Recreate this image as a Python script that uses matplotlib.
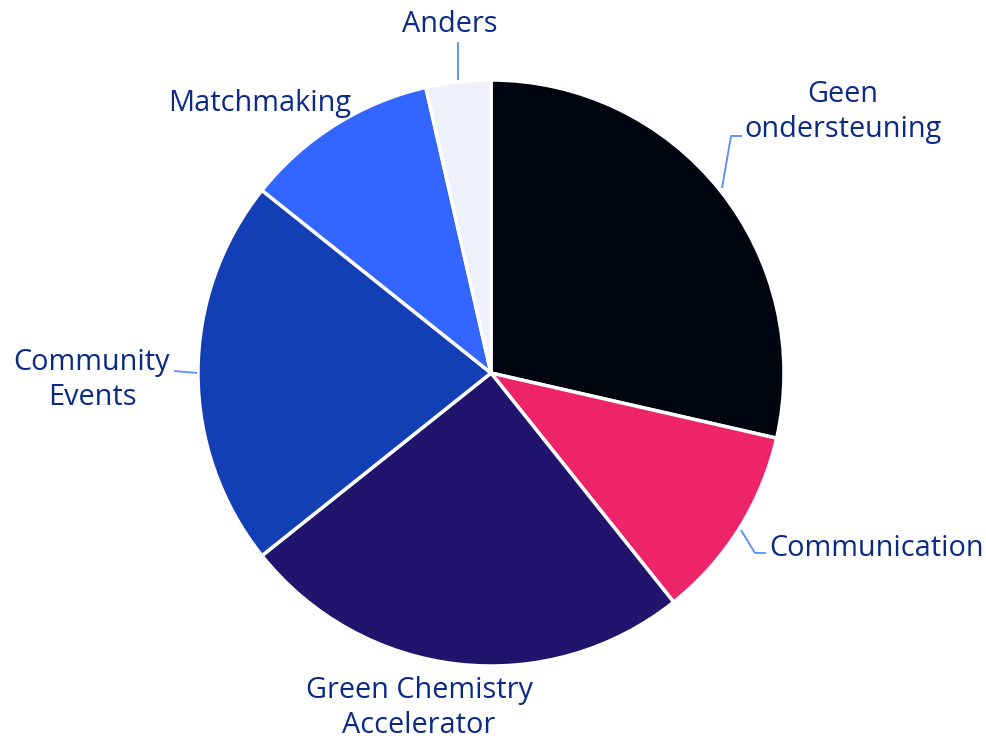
import matplotlib
matplotlib.use("Agg")
import matplotlib.pyplot as plt

categories = ["Geen\nondersteuning", "Communication", "Green Chemistry\nAccelerator",
              "Community\nEvents", "Matchmaking", "Anders"]
values = [8, 3, 7, 6, 3, 1]
colors = ["#00060F", "#EE2468", "#21146C", "#133FB4", "#3366FF", "#EEF1F9"]

W, H = 987, 740
fig = plt.figure(figsize=(W / 100, H / 100), dpi=100)
ax = fig.add_axes([0, 0, 1, 1])
ax.set_xlim(0, W)
ax.set_ylim(0, H)
ax.set_aspect("equal")
ax.axis("off")

cx, cy, r = 491, H - 373, 293
ax.pie(values, colors=colors, startangle=90, counterclock=False,
       center=(cx, cy), radius=r,
       wedgeprops=dict(edgecolor="white", linewidth=2.5))
ax.set_xlim(0, W)
ax.set_ylim(0, H)

txt = "#0A2A86"
line = "#5A8CFF"
fs = 20.8
fam = ["Open Sans", "DejaVu Sans"]

def T(x, y, s, ha="center"):
    ax.text(x, H - y, s, ha=ha, va="center", color=txt, fontsize=fs,
            family=fam, linespacing=1.27)

def L(pts):
    xs = [p[0] for p in pts]
    ys = [H - p[1] for p in pts]
    ax.plot(xs, ys, color=line, lw=1.3, solid_capstyle="butt")

T(450, 25, categories[5])
L([(458, 42), (458, 80)])

T(843, 112, categories[0])
L([(722, 188), (731, 136), (742, 136)])

T(769, 548, categories[1], ha="left")
L([(741, 530), (755, 553), (766, 553)])

T(92, 380, categories[3])
L([(174, 371), (197, 373)])

T(419, 708, categories[2])

T(260, 103, categories[4])

fig.savefig("out.png", dpi=100)
